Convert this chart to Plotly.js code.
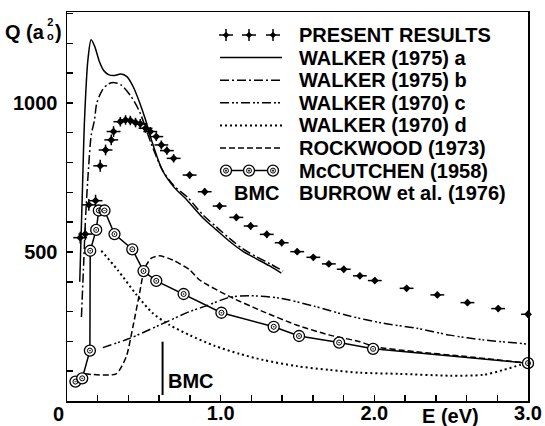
<!DOCTYPE html>
<html><head><meta charset="utf-8">
<script src="https://cdn.plot.ly/plotly-3.0.1.min.js"></script>
<style>html,body{margin:0;padding:0;background:#fff}#chart{width:545px;height:426px}</style>
</head><body><div id="chart"></div>
<script>
// ---------- data ----------
const presentE = [0.086,0.119,0.142,0.186,0.216,0.251,0.288,0.303,0.347,0.381,0.412,0.446,0.477,0.511,0.542,0.581,0.614,0.650,0.694,0.798,0.896,0.993,1.102,1.195,1.300,1.397,1.498,1.603,1.704,1.801,1.906,2.003,2.210,2.410,2.606,2.806,3.000];
const presentQ = [548,560,658,672,789,842,876,904,937,943,941,934,930,915,904,887,859,840,814,758,702,654,616,587,559,531,501,482,460,442,420,404,378,356,330,310,291];
const presentErrQ = [20,20,20,20,20,18,18,18,16,16,16,16,16,15,15,15,15,14,14,12,12,12,12,12,12,12,10,10,10,10,10,10,10,10,10,10,12];
const presentErrE = 0.045;

const walkerAE = [0.083,0.100,0.114,0.136,0.157,0.180,0.210,0.240,0.270,0.310,0.350,0.390,0.430,0.470,0.510,0.550,0.620,0.700,0.770,0.885,0.972,1.059,1.145,1.233,1.319,1.395];
const walkerAQ = [400,700,943,1144,1212,1190,1140,1108,1095,1092,1097,1088,1055,1005,945,875,775,715,680,614,574,535,502,477,453,429];

const walkerBE = [0.094,0.110,0.120,0.140,0.158,0.179,0.194,0.231,0.270,0.309,0.353,0.418,0.472,0.549,0.624,0.700,0.787,0.885,0.972,1.059,1.145,1.233,1.319,1.406];
const walkerBQ = [282,480,607,780,893,943,1000,1044,1064,1068,1060,1021,971,862,772,720,682,624,584,545,510,484,461,436];

const walkerCE = [0.233,0.407,0.603,0.798,0.907,1.059,1.189,1.384,1.601,1.840,2.057,2.275,2.492,2.709,3.000];
const walkerCQ = [179,210,255,300,319,348,353,345,319,285,261,244,221,205,191];

const walkerDE = [0.223,0.329,0.453,0.557,0.668,0.798,0.961,1.124,1.274,1.495,1.710,1.906,2.166,2.492,2.710,2.839,2.948,3.000];
const walkerDQ = [504,440,356,295,255,221,185,158,138,117,104,95,91,85,88,104,121,129];

const rockwoodE = [0.114,0.320,0.386,0.429,0.472,0.505,0.549,0.603,0.689,0.798,0.863,1.059,1.276,1.493,1.710,1.906,2.003,2.275,2.600,3.000];
const rockwoodQ = [91,91,149,249,361,445,479,487,473,440,406,350,300,255,221,199,182,165,149,127];

const mccutchenE = [0.055,0.099,0.149,0.151,0.190,0.207,0.244,0.309,0.425,0.498,0.581,0.759,1.005,1.345,1.510,1.771,1.992,3.000];
const mccutchenQ = [65,76,169,504,574,639,639,560,509,436,403,359,296,249,218,196,175,127];

const bmcE = [0.622,0.622];
const bmcQ = [20,199];
const bmcLabel = 'BMC';

const legendLabels = ['PRESENT RESULTS','WALKER (1975) a','WALKER (1975) b','WALKER (1970) c','WALKER (1970) d','ROCKWOOD (1973)','McCUTCHEN (1958)','BURROW et al. (1976)'];

const xTickVals = [0,0.2,0.4,0.6,0.8,1.0,1.2,1.4,1.6,1.8,2.0,2.2,2.4,2.6,2.8,3.0];
const xTickText = ['','','','','','1.0','','','','','2.0','','','','','3.0'];
const yTickVals = [0,100,200,300,400,500,600,700,800,900,1000,1100,1200,1300];
const yTickText = ['','','','','','500','','','','','1000','','',''];

// ---------- styling ----------
const L=67, R=528, T=12, B=401;
const fx = px => (px-L)/(R-L);
const fy = py => (B-py)/(B-T);
const FONT = {family:'Liberation Sans, Arial, sans-serif', size:20, color:'#000', weight:'bold'};
const BLK = '#000';
const dashB = '9px,3px,2px,3px';
const dashC = '9px,3px,2px,2px,2px,3px';
const dashD = '2px,3px';
const dashR = '6px,3px';

const traces = [
  {x:walkerAE, y:walkerAQ, mode:'lines', line:{color:BLK,width:1.5,shape:'spline',smoothing:0.8}},
  {x:walkerBE, y:walkerBQ, mode:'lines', line:{color:BLK,width:1.5,dash:dashB,shape:'spline',smoothing:0.8}},
  {x:walkerCE, y:walkerCQ, mode:'lines', line:{color:BLK,width:1.5,dash:dashC,shape:'spline',smoothing:0.8}},
  {x:walkerDE, y:walkerDQ, mode:'lines', line:{color:BLK,width:2,dash:dashD,shape:'spline',smoothing:0.8}},
  {x:rockwoodE, y:rockwoodQ, mode:'lines', line:{color:BLK,width:1.5,dash:dashR,shape:'spline',smoothing:0.6}},
  {x:mccutchenE, y:mccutchenQ, mode:'lines+markers', line:{color:BLK,width:1.5},
   marker:{symbol:'circle',size:11,color:'#fff',line:{color:BLK,width:1.3}}},
  {x:mccutchenE, y:mccutchenQ, mode:'markers', hoverinfo:'skip',
   marker:{symbol:'circle-open-dot',size:5,color:BLK,line:{color:BLK,width:1}}},
  {x:presentE, y:presentQ, mode:'markers',
   marker:{symbol:'diamond',size:6,color:BLK},
   error_x:{type:'constant',value:presentErrE,width:0,thickness:1.5,color:BLK},
   error_y:{type:'data',array:presentErrQ,width:0,thickness:1.5,color:BLK}},
  {x:bmcE, y:bmcQ, mode:'lines', line:{color:BLK,width:2}}
].map(t => Object.assign({showlegend:false, cliponaxis:false}, t));

// ---------- hand-drawn legend ----------
const shapes = [];
const annotations = [];
const rowY = i => 35 + i*22.6;
const sx0 = 220, sx1 = 282, textX = 297;
const samplePx = [226, 249, 273];
function pix(xpx, ypx, extra){
  return Object.assign({xref:'paper', yref:'paper', xsizemode:'pixel', ysizemode:'pixel',
    xanchor:fx(xpx), yanchor:fy(ypx)}, extra);
}
// row 0: crosses
samplePx.forEach(p => {
  shapes.push(pix(p, rowY(0), {type:'line', x0:-7, x1:7, y0:0, y1:0, line:{color:BLK,width:1.5}}));
  shapes.push(pix(p, rowY(0), {type:'line', x0:0, x1:0, y0:-6, y1:6, line:{color:BLK,width:1.5}}));
  shapes.push(pix(p, rowY(0), {type:'path', path:'M -3 0 L 0 3 L 3 0 L 0 -3 Z', fillcolor:BLK, line:{color:BLK,width:0.5}}));
});
// rows 1-5: lines
const lineStyles = [
  {dash:'solid', width:1.5}, {dash:dashB, width:1.5}, {dash:dashC, width:1.5},
  {dash:dashD, width:2}, {dash:dashR, width:1.5}
];
lineStyles.forEach((st, k) => {
  const y = fy(rowY(k+1));
  shapes.push({type:'line', xref:'paper', yref:'paper', x0:fx(sx0), x1:fx(sx1), y0:y, y1:y,
    line:{color:BLK, width:st.width, dash:st.dash}});
});
// row 6: circles with line
{
  const y = fy(rowY(6));
  shapes.push({type:'line', xref:'paper', yref:'paper', x0:fx(samplePx[0]), x1:fx(samplePx[2]), y0:y, y1:y,
    line:{color:BLK,width:1.5}});
  samplePx.forEach(p => {
    shapes.push(pix(p, rowY(6), {type:'circle', x0:-5.5, x1:5.5, y0:-5.5, y1:5.5, fillcolor:'#fff', line:{color:BLK,width:1.3}}));
    shapes.push(pix(p, rowY(6), {type:'circle', x0:-2.5, x1:2.5, y0:-2.5, y1:2.5, fillcolor:'rgba(0,0,0,0)', line:{color:BLK,width:1}}));
    shapes.push(pix(p, rowY(6), {type:'circle', x0:-0.8, x1:0.8, y0:-0.8, y1:0.8, fillcolor:BLK, line:{color:BLK,width:0.5}}));
  });
}
// row 7: BMC text as symbol
annotations.push({xref:'paper', yref:'paper', x:fx(sx1), y:fy(rowY(7)), xanchor:'right', yanchor:'middle',
  text:bmcLabel, showarrow:false, font:FONT});
legendLabels.forEach((lab, i) => {
  annotations.push({xref:'paper', yref:'paper', x:fx(textX), y:fy(rowY(i)), xanchor:'left', yanchor:'middle',
    text:lab, showarrow:false, font:FONT});
});

// BMC label in plot
annotations.push({xref:'x', yref:'y', x:bmcE[0], y:67, xanchor:'left', yanchor:'middle', xshift:3,
  text:bmcLabel, showarrow:false, font:FONT});

// axis titles and the origin label
annotations.push({xref:'paper', yref:'paper', x:fx(46), y:fy(32), xanchor:'right', yanchor:'middle',
  text:'Q (a', showarrow:false, font:FONT, borderpad:0});
annotations.push({xref:'paper', yref:'paper', x:fx(50), y:fy(29), xanchor:'center', yanchor:'middle',
  text:'2<br>o', showarrow:false, font:Object.assign({}, FONT, {size:11}), borderpad:0});
annotations.push({xref:'paper', yref:'paper', x:fx(54), y:fy(32), xanchor:'left', yanchor:'middle',
  text:')', showarrow:false, font:FONT, borderpad:0});
annotations.push({xref:'paper', yref:'paper', x:fx(450), y:fy(416), xanchor:'center', yanchor:'middle',
  text:'E (eV)', showarrow:false, font:FONT, borderpad:0});
annotations.push({xref:'paper', yref:'paper', x:fx(58), y:fy(414), xanchor:'center', yanchor:'middle',
  text:'0', showarrow:false, font:FONT});

const axisCommon = {showline:true, mirror:true, linecolor:BLK, linewidth:1.5, ticks:'inside', ticklen:6,
  tickwidth:1.5, tickcolor:BLK, showgrid:false, zeroline:false, tickfont:FONT, tickmode:'array', fixedrange:true};

const layout = {
  width:545, height:426,
  margin:{l:L, r:545-R, t:T, b:426-B, pad:0},
  paper_bgcolor:'#fff', plot_bgcolor:'#fff',
  showlegend:false,
  font:FONT,
  xaxis:Object.assign({}, axisCommon, {range:[0,3.0], tickvals:xTickVals, ticktext:xTickText, ticklabelstandoff:-7}),
  yaxis:Object.assign({}, axisCommon, {range:[0,1305], tickvals:yTickVals, ticktext:yTickText, ticklabelstandoff:4}),
  shapes:shapes,
  annotations:annotations
};

Plotly.newPlot('chart', traces, layout, {staticPlot:true, displayModeBar:false});
</script>
</body></html>
